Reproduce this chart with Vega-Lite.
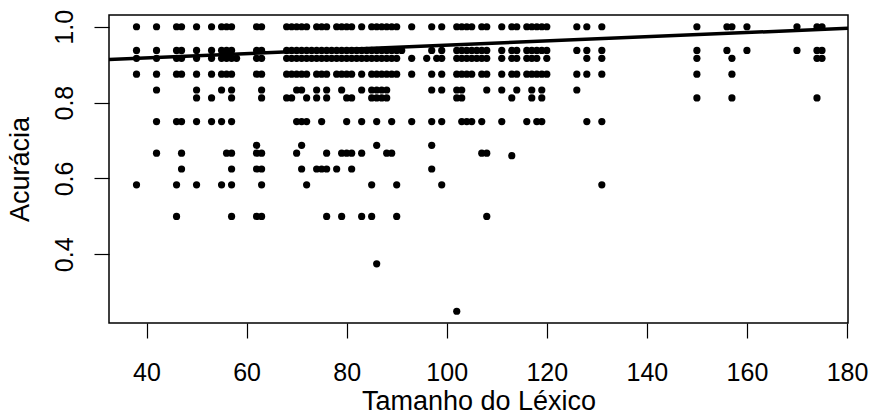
{
"$schema": "https://vega.github.io/schema/vega-lite/v6.json",
"width": 739, "height": 308,
"autosize": {"type": "none"},
"padding": {"left": 109, "top": 15, "right": 24, "bottom": 94},
"background": "white",
"datasets": {
"fit": [{"x": 32.5, "y": 0.914}, {"x": 180.2, "y": 0.996}],
"pts": [
{"x":38,"y":1},{"x":42,"y":1},{"x":46,"y":1},{"x":47,"y":1},{"x":50,"y":1},{"x":53,"y":1},{"x":55,"y":1},{"x":56,"y":1},{"x":57,"y":1},{"x":62,"y":1},{"x":63,"y":1},{"x":68,"y":1},{"x":69,"y":1},{"x":70,"y":1},{"x":71,"y":1},{"x":72,"y":1},{"x":74,"y":1},{"x":75,"y":1},{"x":76,"y":1},{"x":78,"y":1},{"x":79,"y":1},{"x":80,"y":1},{"x":81,"y":1},{"x":83,"y":1},{"x":85,"y":1},{"x":86,"y":1},{"x":87,"y":1},{"x":88,"y":1},{"x":89,"y":1},{"x":90,"y":1},{"x":93,"y":1},{"x":97,"y":1},{"x":99,"y":1},{"x":102,"y":1},{"x":103,"y":1},{"x":104,"y":1},{"x":105,"y":1},{"x":107,"y":1},{"x":108,"y":1},{"x":111,"y":1},{"x":113,"y":1},{"x":114,"y":1},{"x":116,"y":1},{"x":117,"y":1},{"x":118,"y":1},{"x":119,"y":1},{"x":120,"y":1},{"x":126,"y":1},{"x":128,"y":1},{"x":131,"y":1},{"x":150,"y":1},{"x":156,"y":1},{"x":157,"y":1},{"x":160,"y":1},{"x":170,"y":1},{"x":174,"y":1},{"x":175,"y":1},
{"x":38,"y":0.9375},{"x":42,"y":0.9375},{"x":46,"y":0.9375},{"x":47,"y":0.9375},{"x":50,"y":0.9375},{"x":53,"y":0.9375},{"x":55,"y":0.9375},{"x":56,"y":0.9375},{"x":57,"y":0.9375},{"x":62,"y":0.9375},{"x":63,"y":0.9375},{"x":68,"y":0.9375},{"x":69,"y":0.9375},{"x":70,"y":0.9375},{"x":71,"y":0.9375},{"x":72,"y":0.9375},{"x":73,"y":0.9375},{"x":74,"y":0.9375},{"x":75,"y":0.9375},{"x":76,"y":0.9375},{"x":77,"y":0.9375},{"x":78,"y":0.9375},{"x":79,"y":0.9375},{"x":80,"y":0.9375},{"x":81,"y":0.9375},{"x":82,"y":0.9375},{"x":83,"y":0.9375},{"x":84,"y":0.9375},{"x":85,"y":0.9375},{"x":86,"y":0.9375},{"x":87,"y":0.9375},{"x":88,"y":0.9375},{"x":89,"y":0.9375},{"x":90,"y":0.9375},{"x":91,"y":0.9375},{"x":97,"y":0.9375},{"x":99,"y":0.9375},{"x":102,"y":0.9375},{"x":103,"y":0.9375},{"x":104,"y":0.9375},{"x":105,"y":0.9375},{"x":106,"y":0.9375},{"x":107,"y":0.9375},{"x":108,"y":0.9375},{"x":111,"y":0.9375},{"x":113,"y":0.9375},{"x":114,"y":0.9375},{"x":116,"y":0.9375},{"x":117,"y":0.9375},{"x":118,"y":0.9375},{"x":119,"y":0.9375},{"x":120,"y":0.9375},{"x":126,"y":0.9375},{"x":128,"y":0.9375},{"x":131,"y":0.9375},{"x":150,"y":0.9375},{"x":156,"y":0.9375},{"x":160,"y":0.9375},{"x":170,"y":0.9375},{"x":174,"y":0.9375},{"x":175,"y":0.9375},
{"x":38,"y":0.9167},{"x":42,"y":0.9167},{"x":46,"y":0.9167},{"x":47,"y":0.9167},{"x":50,"y":0.9167},{"x":53,"y":0.9167},{"x":55,"y":0.9167},{"x":56,"y":0.9167},{"x":57,"y":0.9167},{"x":58,"y":0.9167},{"x":62,"y":0.9167},{"x":63,"y":0.9167},{"x":68,"y":0.9167},{"x":69,"y":0.9167},{"x":70,"y":0.9167},{"x":71,"y":0.9167},{"x":72,"y":0.9167},{"x":73,"y":0.9167},{"x":74,"y":0.9167},{"x":75,"y":0.9167},{"x":76,"y":0.9167},{"x":77,"y":0.9167},{"x":78,"y":0.9167},{"x":79,"y":0.9167},{"x":80,"y":0.9167},{"x":81,"y":0.9167},{"x":82,"y":0.9167},{"x":83,"y":0.9167},{"x":84,"y":0.9167},{"x":85,"y":0.9167},{"x":86,"y":0.9167},{"x":87,"y":0.9167},{"x":88,"y":0.9167},{"x":89,"y":0.9167},{"x":90,"y":0.9167},{"x":93,"y":0.9167},{"x":96,"y":0.9167},{"x":98,"y":0.9167},{"x":99,"y":0.9167},{"x":102,"y":0.9167},{"x":103,"y":0.9167},{"x":104,"y":0.9167},{"x":105,"y":0.9167},{"x":106,"y":0.9167},{"x":107,"y":0.9167},{"x":108,"y":0.9167},{"x":111,"y":0.9167},{"x":113,"y":0.9167},{"x":114,"y":0.9167},{"x":116,"y":0.9167},{"x":117,"y":0.9167},{"x":118,"y":0.9167},{"x":120,"y":0.9167},{"x":128,"y":0.9167},{"x":131,"y":0.9167},{"x":150,"y":0.9167},{"x":157,"y":0.9167},{"x":174,"y":0.9167},{"x":175,"y":0.9167},
{"x":38,"y":0.875},{"x":42,"y":0.875},{"x":46,"y":0.875},{"x":47,"y":0.875},{"x":50,"y":0.875},{"x":53,"y":0.875},{"x":55,"y":0.875},{"x":56,"y":0.875},{"x":57,"y":0.875},{"x":62,"y":0.875},{"x":63,"y":0.875},{"x":68,"y":0.875},{"x":69,"y":0.875},{"x":70,"y":0.875},{"x":71,"y":0.875},{"x":72,"y":0.875},{"x":74,"y":0.875},{"x":75,"y":0.875},{"x":76,"y":0.875},{"x":78,"y":0.875},{"x":79,"y":0.875},{"x":80,"y":0.875},{"x":81,"y":0.875},{"x":83,"y":0.875},{"x":85,"y":0.875},{"x":86,"y":0.875},{"x":87,"y":0.875},{"x":88,"y":0.875},{"x":89,"y":0.875},{"x":90,"y":0.875},{"x":93,"y":0.875},{"x":97,"y":0.875},{"x":99,"y":0.875},{"x":102,"y":0.875},{"x":103,"y":0.875},{"x":104,"y":0.875},{"x":105,"y":0.875},{"x":107,"y":0.875},{"x":108,"y":0.875},{"x":111,"y":0.875},{"x":113,"y":0.875},{"x":114,"y":0.875},{"x":116,"y":0.875},{"x":117,"y":0.875},{"x":118,"y":0.875},{"x":119,"y":0.875},{"x":120,"y":0.875},{"x":126,"y":0.875},{"x":128,"y":0.875},{"x":131,"y":0.875},{"x":150,"y":0.875},{"x":157,"y":0.875},
{"x":42,"y":0.8333},{"x":50,"y":0.8333},{"x":55,"y":0.8333},{"x":57,"y":0.8333},{"x":63,"y":0.8333},{"x":70,"y":0.8333},{"x":71,"y":0.8333},{"x":74,"y":0.8333},{"x":76,"y":0.8333},{"x":79,"y":0.8333},{"x":83,"y":0.8333},{"x":85,"y":0.8333},{"x":86,"y":0.8333},{"x":87,"y":0.8333},{"x":88,"y":0.8333},{"x":97,"y":0.8333},{"x":99,"y":0.8333},{"x":102,"y":0.8333},{"x":103,"y":0.8333},{"x":108,"y":0.8333},{"x":111,"y":0.8333},{"x":114,"y":0.8333},{"x":117,"y":0.8333},{"x":119,"y":0.8333},{"x":126,"y":0.8333},
{"x":50,"y":0.8125},{"x":53,"y":0.8125},{"x":57,"y":0.8125},{"x":63,"y":0.8125},{"x":68,"y":0.8125},{"x":69,"y":0.8125},{"x":72,"y":0.8125},{"x":74,"y":0.8125},{"x":76,"y":0.8125},{"x":80,"y":0.8125},{"x":81,"y":0.8125},{"x":85,"y":0.8125},{"x":86,"y":0.8125},{"x":87,"y":0.8125},{"x":88,"y":0.8125},{"x":102,"y":0.8125},{"x":103,"y":0.8125},{"x":113,"y":0.8125},{"x":117,"y":0.8125},{"x":119,"y":0.8125},{"x":150,"y":0.8125},{"x":157,"y":0.8125},{"x":174,"y":0.8125},
{"x":42,"y":0.75},{"x":46,"y":0.75},{"x":47,"y":0.75},{"x":50,"y":0.75},{"x":53,"y":0.75},{"x":55,"y":0.75},{"x":57,"y":0.75},{"x":70,"y":0.75},{"x":71,"y":0.75},{"x":72,"y":0.75},{"x":75,"y":0.75},{"x":80,"y":0.75},{"x":83,"y":0.75},{"x":86,"y":0.75},{"x":89,"y":0.75},{"x":93,"y":0.75},{"x":97,"y":0.75},{"x":99,"y":0.75},{"x":103,"y":0.75},{"x":104,"y":0.75},{"x":105,"y":0.75},{"x":107,"y":0.75},{"x":111,"y":0.75},{"x":116,"y":0.75},{"x":118,"y":0.75},{"x":119,"y":0.75},{"x":128,"y":0.75},{"x":131,"y":0.75},
{"x":62,"y":0.6875},{"x":71,"y":0.6875},{"x":86,"y":0.6875},{"x":97,"y":0.6875},
{"x":42,"y":0.6667},{"x":47,"y":0.6667},{"x":56,"y":0.6667},{"x":57,"y":0.6667},{"x":62,"y":0.6667},{"x":63,"y":0.6667},{"x":70,"y":0.6667},{"x":76,"y":0.6667},{"x":79,"y":0.6667},{"x":80,"y":0.6667},{"x":81,"y":0.6667},{"x":83,"y":0.6667},{"x":88,"y":0.6667},{"x":89,"y":0.6667},{"x":107,"y":0.6667},{"x":108,"y":0.6667},
{"x":113,"y":0.66},
{"x":47,"y":0.625},{"x":57,"y":0.625},{"x":62,"y":0.625},{"x":63,"y":0.625},{"x":71,"y":0.625},{"x":74,"y":0.625},{"x":75,"y":0.625},{"x":76,"y":0.625},{"x":78,"y":0.625},{"x":81,"y":0.625},{"x":97,"y":0.625},
{"x":38,"y":0.5833},{"x":46,"y":0.5833},{"x":50,"y":0.5833},{"x":55,"y":0.5833},{"x":57,"y":0.5833},{"x":63,"y":0.5833},{"x":72,"y":0.5833},{"x":85,"y":0.5833},{"x":90,"y":0.5833},{"x":99,"y":0.5833},{"x":131,"y":0.5833},
{"x":46,"y":0.5},{"x":57,"y":0.5},{"x":62,"y":0.5},{"x":63,"y":0.5},{"x":76,"y":0.5},{"x":79,"y":0.5},{"x":83,"y":0.5},{"x":85,"y":0.5},{"x":90,"y":0.5},{"x":108,"y":0.5},
{"x":86,"y":0.375},{"x":102,"y":0.25}
]},
"layer": [
{"data": {"name": "pts"},
 "mark": {"type": "point", "filled": true, "color": "black", "opacity": 1, "size": 52},
 "encoding": {
  "x": {"field": "x", "type": "quantitative", "scale": {"domain": [32.5, 180.2], "nice": false, "zero": false},
        "axis": {"values": [40,60,80,100,120,140,160,180], "title": "Tamanho do Léxico", "labelPadding": 22, "titlePadding": 3}},
  "y": {"field": "y", "type": "quantitative", "scale": {"domain": [0.219, 1.031], "nice": false, "zero": false},
        "axis": {"values": [0.4,0.6,0.8,1.0], "format": ".1f", "title": "Acurácia", "labelAngle": -90, "labelAlign": "center", "labelBaseline": "alphabetic", "labelPadding": 22, "titlePadding": 18}}
 }},
{"data": {"name": "fit"},
 "mark": {"type": "line", "color": "black", "strokeWidth": 3.5, "clip": true},
 "encoding": {"x": {"field": "x", "type": "quantitative"}, "y": {"field": "y", "type": "quantitative"}}}
],
"config": {
 "view": {"stroke": "black", "strokeWidth": 1.5},
 "axis": {"grid": false, "domain": false, "tickColor": "black", "tickSize": 15, "tickWidth": 1.2,
  "labelFont": "Liberation Sans", "labelFontSize": 25, "labelColor": "black",
  "titleFont": "Liberation Sans", "titleFontSize": 27, "titleFontWeight": "normal", "titleColor": "black"}
}
}
